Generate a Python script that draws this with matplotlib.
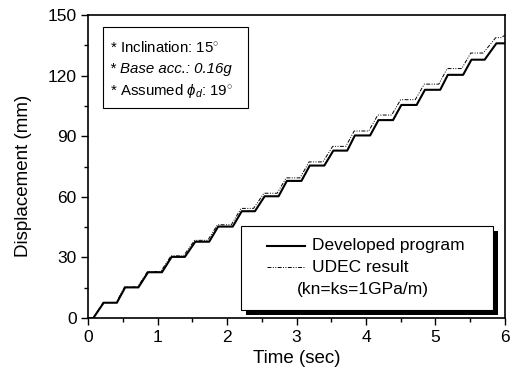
import matplotlib
matplotlib.use("Agg")
import matplotlib.pyplot as plt
from matplotlib.patches import Rectangle
from matplotlib.lines import Line2D
from matplotlib.ticker import MultipleLocator

plt.rcParams['font.family'] = ['Liberation Sans', 'DejaVu Sans']
plt.rcParams['mathtext.fontset'] = 'custom'
plt.rcParams['mathtext.rm'] = 'Liberation Sans'
plt.rcParams['mathtext.it'] = 'Liberation Sans:italic'

# developed program: corner points of the stair-step sliding history
dev_t = [0, 0.07, 0.22, 0.41, 0.53, 0.72, 0.86, 1.06, 1.20, 1.39, 1.54, 1.74,
         1.87, 2.08, 2.21, 2.40, 2.54, 2.74, 2.86, 3.07, 3.19, 3.40, 3.53, 3.73,
         3.84, 4.06, 4.18, 4.39, 4.51, 4.73, 4.85, 5.07, 5.18, 5.40, 5.52, 5.71,
         5.88, 6.00]
dev_d = [0, 0, 7.6, 7.6, 15.2, 15.2, 22.7, 22.7, 30.3, 30.3, 37.8, 37.8,
         45.3, 45.3, 52.9, 52.9, 60.3, 60.3, 67.9, 67.9, 75.5, 75.5, 82.9, 82.9,
         90.4, 90.4, 98.0, 98.0, 105.5, 105.5, 113.0, 113.0, 120.4, 120.4, 127.9, 127.9,
         136.0, 136.0]

# UDEC result (kn=ks=1GPa/m)
udec_t = [0, 0.07, 0.21, 0.40, 0.52, 0.71, 0.85, 1.04, 1.19, 1.37, 1.53, 1.72,
          1.86, 2.06, 2.20, 2.38, 2.53, 2.72, 2.85, 3.05, 3.18, 3.38, 3.52, 3.71,
          3.83, 4.04, 4.17, 4.37, 4.50, 4.71, 4.84, 5.05, 5.17, 5.38, 5.51, 5.69,
          5.87, 5.95, 6.00]
udec_d = [0, 0, 7.7, 7.7, 15.4, 15.4, 23.0, 23.0, 30.8, 30.8, 38.5, 38.5,
          46.2, 46.2, 54.3, 54.3, 61.8, 61.8, 69.4, 69.4, 77.3, 77.3, 85.0, 85.0,
          92.6, 92.6, 100.5, 100.5, 108.1, 108.1, 115.8, 115.8, 123.5, 123.5, 131.2, 131.2,
          138.8, 138.8, 140.0]

notes = [r"* Inclination: 15$^{\circ}$",
         "* Base acc.: 0.16g",
         r"* Assumed $\phi_{d}$: 19$^{\circ}$"]
notes_style = ['normal', 'italic', 'normal']

fig = plt.figure(figsize=(5.14, 3.76), dpi=100)
ax = fig.add_axes([0.172, 0.154, 0.810, 0.806])

ax.plot(udec_t, udec_d, color='black', lw=0.7, dashes=(4, 1.5, 1, 1.5, 1, 1.5))
ax.plot(dev_t, dev_d, color='black', lw=1.5)

ax.set_xlim(0, 6)
ax.set_ylim(0, 150)
ax.xaxis.set_major_locator(MultipleLocator(1))
ax.xaxis.set_minor_locator(MultipleLocator(0.5))
ax.yaxis.set_major_locator(MultipleLocator(30))
ax.yaxis.set_minor_locator(MultipleLocator(15))
ax.tick_params(which='both', direction='out', top=False, right=False,
               labelsize=12.5, width=1)
ax.tick_params(which='major', length=5)
ax.tick_params(which='minor', length=3)
for s in ax.spines.values():
    s.set_linewidth(1.2)

ax.set_xlabel("Time (sec)", fontsize=13.5)
ax.set_ylabel("Displacement (mm)", fontsize=13.5)
ax.yaxis.set_label_coords(-0.135, 0.47)

# parameter box in upper left
ax.add_patch(Rectangle((0.035, 0.693), 0.348, 0.267, transform=ax.transAxes,
                       fill=False, lw=0.8, ec='black'))
for txt, st, yy in zip(notes, notes_style, [0.893, 0.822, 0.748]):
    ax.text(0.052, yy, txt, transform=ax.transAxes, fontsize=10.8,
            va='center', style=st)

# legend box with heavy drop shadow
ax.add_patch(Rectangle((0.378, 0.010), 0.605, 0.278, transform=ax.transAxes,
                       fc='black', ec='black', lw=0, zorder=4, clip_on=False))
ax.add_patch(Rectangle((0.366, 0.026), 0.605, 0.278, transform=ax.transAxes,
                       fc='white', ec='black', lw=0.8, zorder=5, clip_on=False))
ax.add_line(Line2D([0.429, 0.52], [0.238, 0.238], transform=ax.transAxes,
                   color='black', lw=1.5, zorder=6))
ax.add_line(Line2D([0.429, 0.52], [0.168, 0.168], transform=ax.transAxes,
                   color='black', lw=0.7, dashes=(4, 1.5, 1, 1.5, 1, 1.5), zorder=6))
ax.text(0.537, 0.238, "Developed program", transform=ax.transAxes,
        fontsize=12.5, va='center', zorder=6)
ax.text(0.537, 0.168, "UDEC result", transform=ax.transAxes,
        fontsize=12.5, va='center', zorder=6)
ax.text(0.50, 0.093, "(kn=ks=1GPa/m)", transform=ax.transAxes,
        fontsize=12.5, va='center', zorder=6)

fig.savefig("out.png", dpi=100)
